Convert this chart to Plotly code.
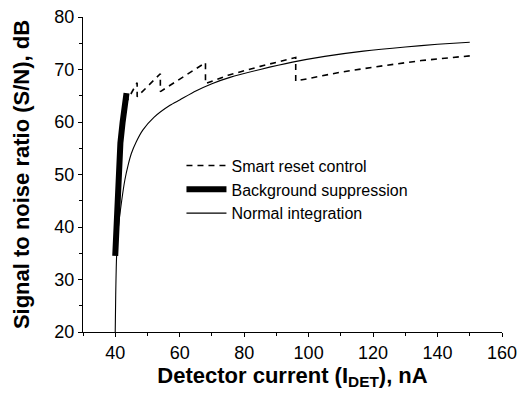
import plotly.graph_objects as go

# Normal integration
normal_x = [40.0, 40.15, 40.4, 41.0, 42.0, 43.0, 44.0, 45.0, 46.5, 48.6, 52.0, 57.0, 60.0, 65.0, 70.0, 75.6, 85.0, 95.0, 105.0, 117.0, 130.0, 140.0, 150.0]
normal_y = [20.0, 27.0, 34.0, 40.0, 45.0, 49.0, 51.8, 54.0, 56.2, 58.5, 60.9, 63.2, 64.2, 65.9, 67.3, 68.5, 70.0, 71.4, 72.5, 73.5, 74.3, 74.8, 75.2]

# Background suppression
bg_x = [40.0, 40.2, 40.4, 40.7, 41.0, 41.6, 42.3, 43.0, 43.5]
bg_y = [34.5, 38.0, 42.0, 47.0, 51.5, 56.0, 60.0, 63.5, 65.5]

# Smart reset control
sr_x = [43.2, 46.8, 46.8, 54.0, 54.0, 68.0, 68.0, 75.0, 85.0, 96.0, 96.0, 110.0, 123.0, 135.0, 150.0]
sr_y = [63.5, 67.5, 64.8, 69.2, 65.8, 71.3, 67.3, 68.9, 70.6, 72.3, 67.8, 69.5, 70.7, 71.7, 72.6]

x_ticks = [40, 60, 80, 100, 120, 140, 160]
y_ticks = [20, 30, 40, 50, 60, 70, 80]

FONT = "Arial, Liberation Sans, sans-serif"

fig = go.Figure()
fig.add_trace(go.Scatter(x=sr_x, y=sr_y, mode="lines", name="Smart reset control",
                         line=dict(color="black", width=1.6, dash="6px,5px")))
fig.add_trace(go.Scatter(x=bg_x, y=bg_y, mode="lines", name="Background suppression",
                         line=dict(color="black", width=6)))
fig.add_trace(go.Scatter(x=normal_x, y=normal_y, mode="lines", name="Normal integration",
                         line=dict(color="black", width=1.1, shape="spline", smoothing=0.6)))

axis_common = dict(showline=True, linecolor="black", linewidth=1.2, showgrid=False, zeroline=False,
                   ticks="outside", ticklen=4, tickcolor="black", tickwidth=1, automargin=False,
                   tickfont=dict(family=FONT, size=18, color="black"),
                   minor=dict(ticks="outside", ticklen=3, tickcolor="black", tickwidth=1))

fig.update_xaxes(range=[30, 160], tickvals=x_ticks, minor_dtick=10,
                 title=dict(text="<b>Detector current (I<sub>DET</sub>), nA</b>",
                            font=dict(family=FONT, size=22, color="black"), standoff=1),
                 **axis_common)
fig.update_yaxes(range=[20, 80], tickvals=y_ticks, minor_dtick=5,
                 title=dict(text="<b>Signal to noise ratio (S/N), dB</b>",
                            font=dict(family=FONT, size=22, color="black"), standoff=18),
                 **axis_common)

fig.update_layout(
    width=519, height=399,
    margin=dict(l=83, r=17, t=17, b=67),
    paper_bgcolor="white", plot_bgcolor="white",
    showlegend=True,
    legend=dict(x=0.235, y=0.582, xanchor="left", yanchor="top", bgcolor="rgba(0,0,0,0)",
                font=dict(family=FONT, size=16, color="black"),
                tracegroupgap=0, itemwidth=40),
)

fig.write_html("out.html", config={"displayModeBar": False},
               post_script="document.body.style.margin='0';")
